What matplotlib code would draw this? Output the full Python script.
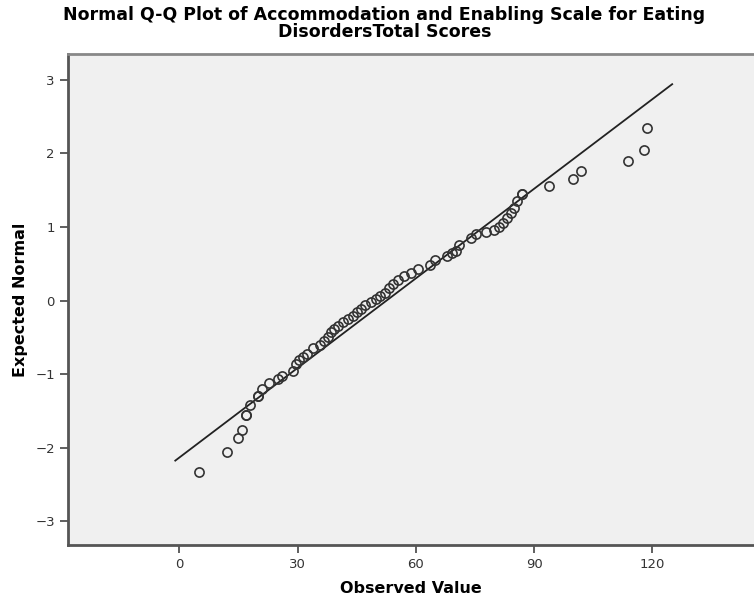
import matplotlib
matplotlib.use('Agg')
import matplotlib.pyplot as plt

plt.rcParams['font.family'] = ['DejaVu Sans']

TITLE = 'Normal Q-Q Plot of Accommodation and Enabling Scale for Eating\nDisordersTotal Scores'

observed = [5.0, 12.1, 14.9, 16.0, 17.0, 17.0, 18.0, 20.0, 20.0, 21.0, 22.8, 25.0,
            26.0, 28.8, 29.6, 30.4, 31.4, 32.4, 33.9, 35.7, 36.7, 37.7, 38.5, 39.2,
            40.2, 41.5, 42.8, 44.0, 45.0, 46.0, 47.0, 48.6, 49.9, 51.0, 52.2, 53.2,
            54.2, 55.5, 57.0, 58.8, 60.5, 63.6, 64.8, 67.9, 69.1, 70.2, 70.9, 74.0,
            75.2, 77.8, 79.8, 81.0, 82.0, 83.1, 84.1, 84.9, 85.7, 87.0, 87.0, 93.8,
            99.9, 101.9, 113.8, 117.9, 118.6]
expected = [-2.33, -2.06, -1.87, -1.76, -1.56, -1.56, -1.42, -1.30, -1.30, -1.20, -1.12, -1.07,
            -1.03, -0.95, -0.86, -0.81, -0.76, -0.72, -0.65, -0.60, -0.55, -0.50, -0.43, -0.38,
            -0.34, -0.29, -0.25, -0.21, -0.16, -0.12, -0.06, -0.02, 0.02, 0.06, 0.11, 0.17,
            0.23, 0.28, 0.33, 0.37, 0.43, 0.49, 0.55, 0.60, 0.64, 0.68, 0.75, 0.85,
            0.90, 0.93, 0.96, 1.00, 1.05, 1.12, 1.19, 1.26, 1.35, 1.45, 1.45, 1.56,
            1.65, 1.76, 1.89, 2.05, 2.34]

# reference line: normal with this mean / sd
line_mean = 52.56
line_sd = 24.64
line_x = [-1, 125]

x_ticks = [0, 30, 60, 90, 120]
y_ticks = [-3, -2, -1, 0, 1, 2, 3]


def qq_plot():
    fig = plt.figure(figsize=(7.54, 6), dpi=100)
    ax = fig.add_axes([68 / 754, 55 / 600, 1 - 68 / 754, 491 / 600])
    ax.set_facecolor('#f0f0f0')

    ly = [(v - line_mean) / line_sd for v in line_x]
    ax.plot(line_x, ly, color='#222222', lw=1.3, zorder=2)
    ax.plot(observed, expected, 'o', ms=6.6, mfc='none', mec='#333333', mew=1.2, zorder=3)

    ax.set_xlim(-28.2, 145.75)
    ax.set_ylim(-3.32, 3.35)
    ax.set_xticks(x_ticks)
    ax.set_yticks(y_ticks)
    ax.set_yticklabels([str(t).replace('-', '\u2212') for t in y_ticks])

    for side in ['left', 'bottom']:
        ax.spines[side].set_color('#555555')
        ax.spines[side].set_linewidth(2)
    ax.spines['top'].set_color('#888888')
    ax.spines['top'].set_linewidth(2)
    ax.spines['right'].set_visible(False)
    ax.tick_params(direction='out', length=6, width=1.2, color='#444444',
                   labelsize=9.5, labelcolor='#333333')

    ax.set_xlabel('Observed Value', fontsize=11.5, fontweight='bold', labelpad=7)
    ax.set_ylabel('Expected Normal', fontsize=11.5, fontweight='bold', labelpad=5)
    fig.text(0.51, 0.99, TITLE, ha='center', va='top', fontsize=12.5,
             fontweight='bold', linespacing=0.95)

    fig.savefig('out.png', dpi=100)


if __name__ == '__main__':
    qq_plot()
